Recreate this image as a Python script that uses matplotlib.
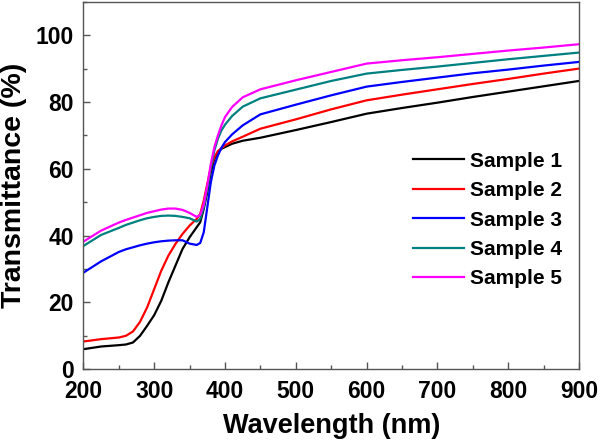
import matplotlib
matplotlib.use("Agg")
import matplotlib.pyplot as plt
from matplotlib.ticker import MultipleLocator

# wavelength grid (nm) shared by all samples
wavelength = [200, 225, 250, 260, 270, 280, 290, 300, 310, 320, 330, 340, 350, 360,
              365, 370, 375, 380, 385, 390, 395, 400, 410, 425, 450, 500, 550, 600,
              650, 700, 750, 800, 850, 900]

# transmittance (%)
sample1 = [6.0, 6.8, 7.2, 7.4, 8.0, 10.0, 13.0, 16.2, 20.5, 26.0, 31.0, 36.0, 39.5,
           42.5, 44.0, 48.0, 53.0, 59.0, 63.0, 65.0, 66.0, 66.5, 67.5, 68.4, 69.3,
           71.6, 74.0, 76.5, 78.2, 79.8, 81.5, 83.1, 84.7, 86.3]
sample2 = [8.3, 9.0, 9.5, 10.0, 11.3, 14.2, 18.5, 24.0, 29.5, 34.0, 37.5, 40.5, 43.0,
           45.0, 46.5, 50.5, 55.5, 60.5, 63.5, 65.3, 66.2, 67.0, 68.2, 69.6, 72.0,
           74.8, 77.8, 80.5, 82.2, 83.8, 85.4, 86.9, 88.5, 90.0]
sample3 = [28.9, 32.3, 35.1, 35.9, 36.5, 37.1, 37.6, 38.0, 38.3, 38.5, 38.6, 38.6, 37.6,
           37.2, 37.8, 41.0, 48.5, 56.0, 61.0, 64.0, 66.3, 68.0, 70.3, 73.0, 76.3,
           79.2, 82.0, 84.6, 86.0, 87.3, 88.6, 89.7, 90.9, 92.0]
sample4 = [36.9, 40.2, 42.3, 43.2, 43.9, 44.6, 45.2, 45.6, 45.9, 46.0, 45.9, 45.6, 45.2,
           44.2, 45.0, 48.5, 54.0, 60.5, 65.5, 69.0, 71.5, 73.2, 75.8, 78.6, 81.1,
           83.7, 86.3, 88.5, 89.6, 90.6, 91.7, 92.8, 93.8, 94.8]
sample5 = [38.2, 41.5, 43.9, 44.7, 45.4, 46.1, 46.8, 47.3, 47.8, 48.1, 48.1, 47.7, 46.8,
           45.6, 46.2, 49.3, 55.0, 61.5, 66.5, 70.0, 73.0, 75.5, 78.5, 81.4, 83.8,
           86.5, 89.0, 91.5, 92.5, 93.4, 94.4, 95.4, 96.3, 97.3]

labels = ["Sample 1", "Sample 2", "Sample 3", "Sample 4", "Sample 5"]
colors = ["#000000", "#ff0000", "#0000ff", "#008080", "#ff00ff"]

plt.rcParams["font.family"] = ["Liberation Sans", "DejaVu Sans"]
plt.rcParams["font.weight"] = "bold"

fig = plt.figure(figsize=(6.0, 4.47), dpi=100)
ax = fig.add_axes([0.139, 0.174, 0.826, 0.822])

for y, lab, c in zip([sample1, sample2, sample3, sample4, sample5], labels, colors):
    ax.plot(wavelength, y, color=c, lw=1.6, label=lab)

ax.set_xlim(200, 900)
ax.set_ylim(0, 110)
ax.xaxis.set_major_locator(MultipleLocator(100))
ax.xaxis.set_minor_locator(MultipleLocator(50))
ax.yaxis.set_minor_locator(MultipleLocator(10))
ax.set_yticks([0, 20, 40, 60, 80, 100])

for s in ax.spines.values():
    s.set_color("#555555")
    s.set_linewidth(1.0)
ax.tick_params(which="both", direction="in", color="#555555", width=1.0)
ax.tick_params(which="major", length=5, labelsize=16.5)
ax.tick_params(which="minor", length=3)
ax.tick_params(axis="y", pad=7)
ax.tick_params(axis="x", pad=8)
for t in ax.get_xticklabels() + ax.get_yticklabels():
    t.set_fontweight("bold")

ax.set_xlabel("Wavelength (nm)", fontsize=19.5, fontweight="bold", labelpad=7)
ax.set_ylabel("Transmittance (%)", fontsize=20.5, fontweight="bold", labelpad=6)

leg = ax.legend(loc="center left", bbox_to_anchor=(0.665, 0.406), frameon=False,
                prop={"size": 15, "weight": "bold"}, handlelength=2.45,
                handletextpad=0.3, labelspacing=0.5, borderpad=0, borderaxespad=0)

fig.savefig("out.png", dpi=100)
